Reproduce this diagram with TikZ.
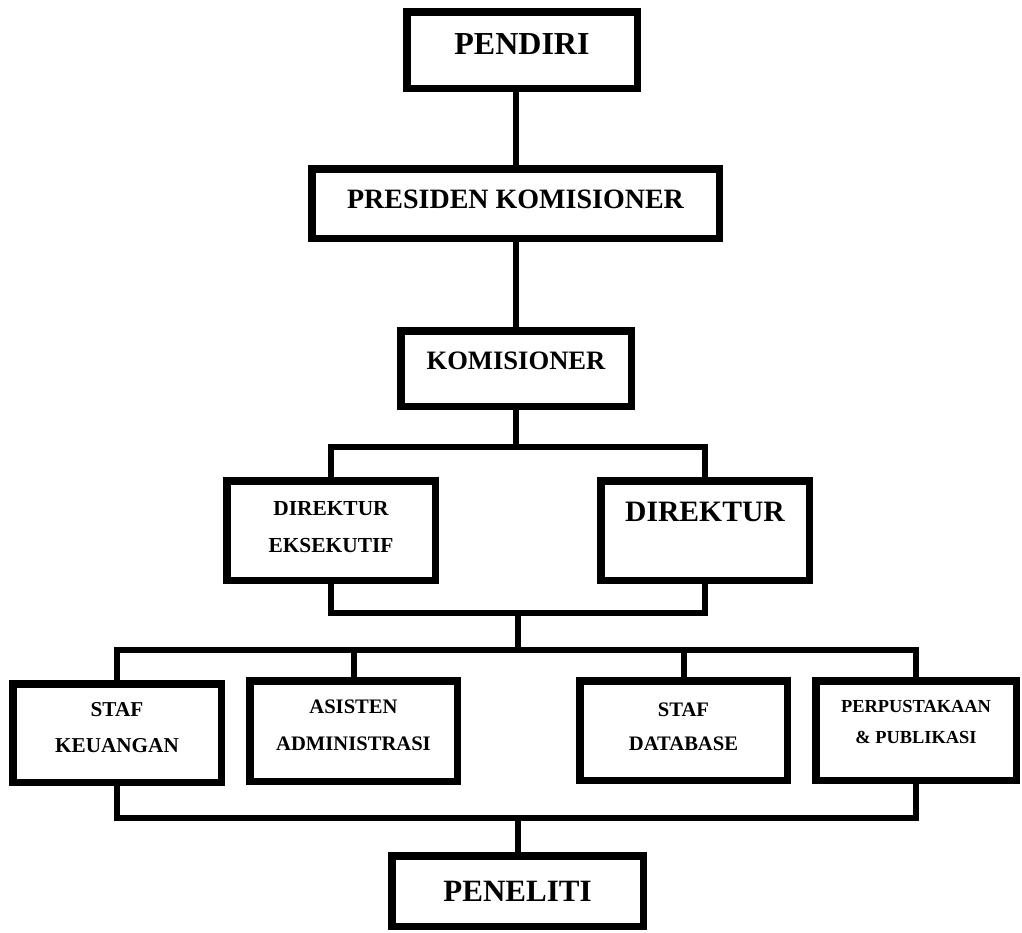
\documentclass[tikz,border=0pt]{standalone}
\usepackage{fontspec}
\setmainfont{Liberation Serif}

\begin{document}
\begin{tikzpicture}[x=0.5pt, y=-0.5pt,
    unit/.style={draw, line width=3.75pt, inner sep=0pt, align=center},
    link/.style={line width=3pt}]
    \useasboundingbox (0,0) rectangle (1022,932);

    % Top levels
    \node[unit, minimum width=115.25pt, minimum height=38.25pt, text depth=6pt,
          font=\fontsize{16}{19}\selectfont\bfseries] (pendiri) at (522,50) {PENDIRI};
    \node[unit, minimum width=203.75pt, minimum height=34.75pt, text depth=4.5pt,
          font=\fontsize{14}{17}\selectfont\bfseries] (presiden) at (515.5,203.5) {PRESIDEN KOMISIONER};
    \node[unit, minimum width=115.25pt, minimum height=37.75pt, text depth=7.5pt,
          font=\fontsize{13.3}{16}\selectfont\bfseries] (komisioner) at (516,368.5) {KOMISIONER};

    % Direksi
    \node[unit, minimum width=104.25pt, minimum height=49.75pt, text depth=4pt,
          font=\fontsize{10.7}{18.5}\selectfont\bfseries] (direx) at (331,530.5) {DIREKTUR\\EKSEKUTIF};
    \node[unit, minimum width=104.25pt, minimum height=49.75pt, text depth=18.5pt,
          font=\fontsize{14.8}{18}\selectfont\bfseries] (direktur) at (705,530.5) {DIREKTUR};

    % Staf
    \node[unit, minimum width=104.25pt, minimum height=49.25pt, text depth=6pt,
          font=\fontsize{10.6}{18}\selectfont\bfseries] (keuangan) at (117,733) {STAF\\KEUANGAN};
    \node[unit, minimum width=103.75pt, minimum height=50.25pt, text depth=5.5pt,
          font=\fontsize{10.3}{18.5}\selectfont\bfseries] (asisten) at (353.5,731) {ASISTEN\\ADMINISTRASI};
    \node[unit, minimum width=103.75pt, minimum height=49.75pt, text depth=3.5pt,
          font=\fontsize{10.3}{17}\selectfont\bfseries] (database) at (683.5,730.5) {STAF\\DATABASE};
    \node[unit, minimum width=100.25pt, minimum height=49.75pt, text depth=9pt,
          font=\fontsize{9.2}{15.5}\selectfont\bfseries] (pustaka) at (916,730.5) {PERPUSTAKAAN\\\& PUBLIKASI};

    \node[unit, minimum width=125.75pt, minimum height=35.25pt,
          font=\fontsize{15.5}{18}\selectfont\bfseries] (peneliti) at (517.5,891) {PENELITI};

    % Branch points
    \coordinate (fork1) at (516,447);
    \coordinate (join1) at (518,613);
    \coordinate (fork2) at (518,650);
    \coordinate (join2) at (517.5,818);

    \draw[link] (presiden.north) -- (presiden.north |- pendiri.south);
    \draw[link] (presiden.south -| komisioner.north) -- (komisioner.north);
    \draw[link] (komisioner.south) -- (fork1);
    \draw[link] (direx.north) |- (fork1) -| (direktur.north);
    \draw[link] (direx.south) |- (join1) -| (direktur.south);
    \draw[link] (join1) -- (fork2);
    \draw[link] (keuangan.north) |- (fork2) -| (pustaka.north);
    \draw[link] (fork2 -| asisten.north) -- (asisten.north);
    \draw[link] (fork2 -| database.north) -- (database.north);
    \draw[link] (keuangan.south) |- (join2) -| (pustaka.south);
    \draw[link] (join2) -- (peneliti.north);

\end{tikzpicture}
\end{document}
